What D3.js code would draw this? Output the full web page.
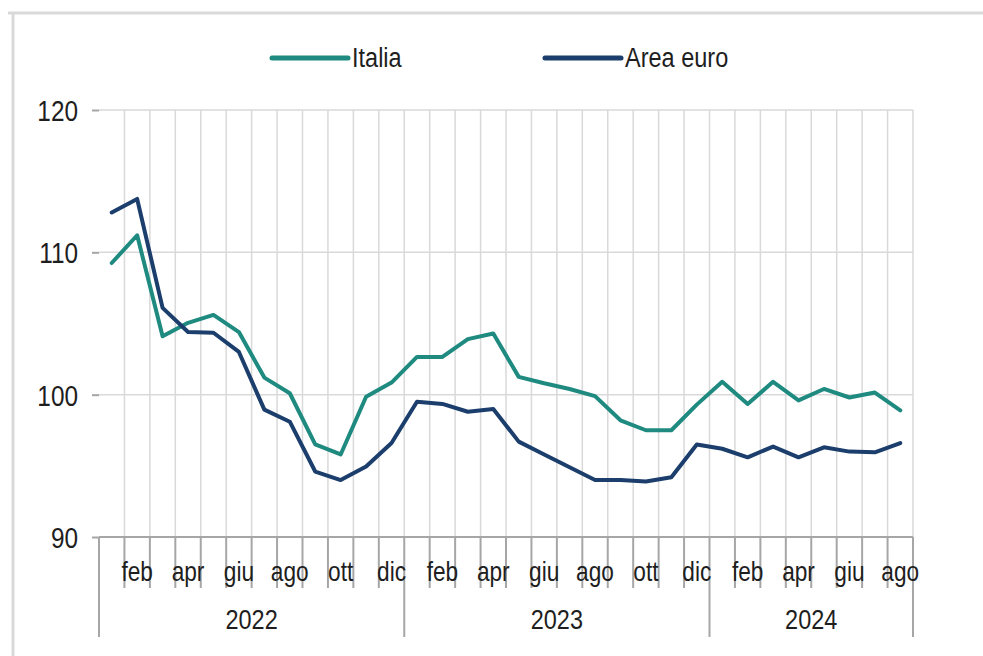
<!DOCTYPE html>
<meta charset="utf-8">
<head>
<title>Italia vs Area euro</title>
<style>
body { margin: 0; background: #fff; }
text { font-family: "Liberation Sans", Arial, sans-serif; fill: #1e1e1e; }
.grid line { stroke: #d9d9d9; stroke-width: 1.5px; }
.axisline { stroke: #a6a6a6; stroke-width: 2px; }
.frame { stroke: #d9d9d9; stroke-width: 3px; }
.series { fill: none; stroke-width: 4px; stroke-linejoin: round; stroke-linecap: round; }
</style>
</head>
<body>
<script src="https://cdn.jsdelivr.net/npm/d3@7"></script>
<div id="chart"></div>
<script>

var width = 983,
    height = 656;

// monthly index, jan 2022 - ago 2024
var monthNames = ["gen","feb","mar","apr","mag","giu","lug","ago","set","ott","nov","dic"];
var years = [2022, 2023, 2024];
var monthsPerYear = [12, 12, 8];

var italia = [109.25, 111.2, 104.1, 105.05, 105.6, 104.4, 101.2, 100.1, 96.5, 95.8, 99.85, 100.85,
              102.65, 102.65, 103.9, 104.3, 101.25, 100.8, 100.4, 99.9, 98.2, 97.5, 97.5, 99.3,
              100.9, 99.35, 100.9, 99.6, 100.4, 99.8, 100.15, 98.9];
var areaEuro = [112.8, 113.75, 106.1, 104.4, 104.35, 103.0, 98.95, 98.1, 94.6, 94.0, 94.95, 96.6,
                99.5, 99.35, 98.8, 99.0, 96.7, 95.8, 94.9, 94.0, 94.0, 93.9, 94.2, 96.5,
                96.2, 95.6, 96.35, 95.6, 96.3, 96.0, 95.95, 96.6];
var yTicks = [90, 100, 110, 120];

var seriesNames = ["Italia", "Area euro"];
var seriesColors = ["#1f8a7f", "#1b3e6c"];

// the original uses a narrow font, so squeeze text horizontally
var squeeze = 0.84;

function narrowText(parent, px, py, str, size, anchor) {
  return parent.append("text")
    .attr("transform", "translate(" + px + "," + py + ") scale(" + squeeze + ",1)")
    .attr("text-anchor", anchor || "middle")
    .attr("font-size", size + "px")
    .text(str);
}

// build month keys
var months = [];
years.forEach(function(y, i) {
  for (var m = 0; m < monthsPerYear[i]; m++) months.push({ key: y + "-" + m, year: y, m: m });
});

var svg = d3.select("#chart").append("svg")
    .attr("width", width)
    .attr("height", height);

// outer frame (top and left edge of the original picture)
svg.append("line").attr("class", "frame").attr("x1", 8).attr("x2", width).attr("y1", 13).attr("y2", 13);
svg.append("line").attr("class", "frame").attr("x1", 13).attr("x2", 13).attr("y1", 13).attr("y2", height);

var x = d3.scaleBand()
    .domain(months.map(function(d) { return d.key; }))
    .range([99, 913])
    .padding(0);

var y = d3.scaleLinear()
    .domain([90, 120])
    .range([537, 110]);

// vertical grid at month boundaries
var grid = svg.append("g").attr("class", "grid");
grid.selectAll(".vg")
  .data(months.slice(1))
  .enter().append("line")
    .attr("x1", function(d) { return x(d.key); })
    .attr("x2", function(d) { return x(d.key); })
    .attr("y1", y(120))
    .attr("y2", y(90));
grid.append("line")
    .attr("x1", x.range()[1]).attr("x2", x.range()[1])
    .attr("y1", y(120)).attr("y2", y(90));

// horizontal grid
grid.selectAll(".hg")
  .data(yTicks.slice(1))
  .enter().append("line")
    .attr("x1", x.range()[0])
    .attr("x2", x.range()[1])
    .attr("y1", function(d) { return y(d); })
    .attr("y2", function(d) { return y(d); });

// y axis
var yAxis = svg.append("g")
    .attr("transform", "translate(" + x.range()[0] + ",0)")
    .call(d3.axisLeft(y).tickValues(yTicks).tickSize(7).tickPadding(14));
yAxis.select(".domain").remove();
yAxis.selectAll(".tick line").attr("stroke", "#a6a6a6").attr("stroke-width", 2);
yAxis.selectAll(".tick text")
    .attr("x", null)
    .attr("dy", "0.36em")
    .attr("transform", "translate(-21,0) scale(" + squeeze + ",1)")
    .attr("font-size", "29px")
    .attr("fill", "#1e1e1e")
    .style("font-family", "'Liberation Sans', Arial, sans-serif");

// bottom axis line
svg.append("line").attr("class", "axisline")
    .attr("x1", x.range()[0]).attr("x2", x.range()[1])
    .attr("y1", y(90)).attr("y2", y(90));

// month tick marks
var edges = months.map(function(d) { return { x: x(d.key), first: d.m === 0 }; });
edges.push({ x: x.range()[1], first: true });
svg.selectAll(".mtick")
  .data(edges)
  .enter().append("line")
    .attr("class", "axisline")
    .attr("x1", function(d) { return d.x; })
    .attr("x2", function(d) { return d.x; })
    .attr("y1", y(90))
    .attr("y2", function(d) { return d.first ? 637 : 588; });

// month labels, every other month
months.filter(function(d) { return d.m % 2 === 1; }).forEach(function(d) {
  narrowText(svg, x(d.key) + x.bandwidth() / 2, 581, monthNames[d.m], 27);
});

// year labels
var start = 0;
years.forEach(function(yr, i) {
  var a = x(months[start].key),
      b = x(months[start + monthsPerYear[i] - 1].key) + x.bandwidth();
  narrowText(svg, (a + b) / 2, 629, yr, 28);
  start += monthsPerYear[i];
});

// lines
var line = d3.line()
    .x(function(d, i) { return x(months[i].key) + x.bandwidth() / 2; })
    .y(function(d) { return y(d); });

[italia, areaEuro].forEach(function(s, i) {
  svg.append("path")
    .datum(s)
    .attr("class", "series")
    .attr("stroke", seriesColors[i])
    .attr("d", line);
});

// legend
var legendPos = [272, 545];
seriesNames.forEach(function(name, i) {
  var g = svg.append("g").attr("transform", "translate(" + legendPos[i] + ",58)");
  g.append("line")
    .attr("x1", 0).attr("x2", 76).attr("y1", 0).attr("y2", 0)
    .attr("stroke", seriesColors[i])
    .attr("stroke-width", 5)
    .attr("stroke-linecap", "round");
  narrowText(g, 80, 9, name, 28, "start");
});

</script>
</body>
